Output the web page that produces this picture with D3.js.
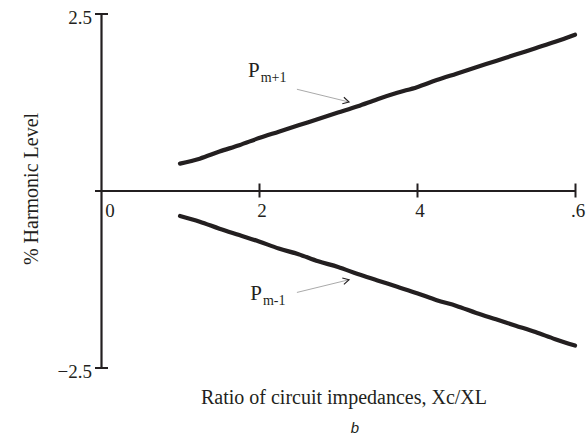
<!DOCTYPE html>
<html><head><meta charset="utf-8">
<script src="https://cdn.jsdelivr.net/npm/d3@7"></script>
<style>body{margin:0;background:#fff} svg{display:block}</style>
</head><body><svg id="c" width="588" height="438"></svg>
<script>
const xVals = [1,1.25,1.5,1.75,2,2.25,2.5,2.75,3,3.25,3.5,3.75,4,4.25,4.5,4.75,5,5.25,5.5,5.75,6];
const upperVals = [0.38,0.45,0.55,0.64,0.74,0.83,0.92,1.01,1.10,1.19,1.29,1.38,1.46,1.56,1.65,1.74,1.83,1.92,2.01,2.10,2.20];
const lowerVals = [-0.36,-0.44,-0.54,-0.63,-0.72,-0.82,-0.90,-1.00,-1.08,-1.18,-1.27,-1.36,-1.45,-1.55,-1.63,-1.73,-1.82,-1.91,-2.00,-2.10,-2.19];
const xTicks = [2,4,6];
const xTickLabelVals = [0,2,4,6];
const xTickLabels = ["0","2","4",".6"];
const yTicks = [2.5,0,-2.5];
const yTickLabelVals = [2.5,-2.5];
const yTickLabels = ["2.5","\u22122.5"];
const seriesLabels = [
  {name:"P", sub:"m+1", x:1.86, y:1.60, ax1:2.48, ay1:1.43, ax2:3.14, ay2:1.25},
  {name:"P", sub:"m-1", x:1.89, y:-1.54, ax1:2.48, ay1:-1.44, ax2:3.14, ay2:-1.26}
];
const xTitle = "Ratio of circuit impedances, Xc/XL";
const yTitle = "% Harmonic Level";
const caption = "b";

const ink = "#231f20";
const serif = "'Liberation Serif','Times New Roman',serif";
const svg = d3.select("#c");
const x = d3.scaleLinear().domain([0,6]).range([101,575]);
const y = d3.scaleLinear().domain([-2.5,2.5]).range([367.5,13.5]);

// X axis
const gx = svg.append("g").attr("transform",`translate(0,${y(0)})`)
  .call(d3.axisBottom(x).tickValues(xTicks).tickSize(7).tickSizeOuter(0).tickFormat(""));
gx.select(".domain").attr("stroke",ink).attr("stroke-width",2.2);
gx.selectAll(".tick line").attr("y1",-7).attr("y2",7).attr("stroke",ink).attr("stroke-width",2);

// Y axis
const gy = svg.append("g").attr("transform",`translate(${x(0)},0)`)
  .call(d3.axisLeft(y).tickValues(yTicks).tickSize(6).tickSizeOuter(0).tickFormat(""));
gy.select(".domain").attr("stroke",ink).attr("stroke-width",2.2);
gy.selectAll(".tick line").attr("x1",7).attr("x2",-6).attr("stroke",ink).attr("stroke-width",2);

// tick labels
svg.append("g").selectAll("text").data(xTickLabelVals).join("text")
  .attr("x",(d,i)=> i===0 ? x(d)+9 : x(d)+3)
  .attr("y",y(0)+26.5)
  .attr("text-anchor","middle")
  .attr("font-family",serif).attr("font-size",19).attr("fill",ink)
  .text((d,i)=>xTickLabels[i]);
svg.append("g").selectAll("text").data(yTickLabelVals).join("text")
  .attr("x",x(0)-9).attr("y",d=>y(d)+10)
  .attr("text-anchor","end")
  .attr("font-family",serif).attr("font-size",19).attr("fill",ink)
  .text((d,i)=>yTickLabels[i]);

// lines
const line = d3.line().x(d=>x(d[0])).y(d=>y(d[1])).curve(d3.curveCatmullRom);
[upperVals, lowerVals].forEach(vals=>{
  svg.append("path").datum(xVals.map((v,i)=>[v,vals[i]]))
    .attr("d",line).attr("fill","none").attr("stroke",ink)
    .attr("stroke-width",4.2).attr("stroke-linecap","round").attr("stroke-linejoin","round");
});

// series labels + arrows
seriesLabels.forEach(s=>{
  const t = svg.append("text").attr("x",x(s.x)).attr("y",y(s.y))
    .attr("font-family",serif).attr("fill",ink).attr("font-size",21);
  t.append("tspan").text(s.name);
  t.append("tspan").attr("font-size",14).attr("dx",1).attr("dy",5).text(s.sub);
  const x1=x(s.ax1), y1=y(s.ay1), x2=x(s.ax2), y2=y(s.ay2);
  svg.append("line").attr("x1",x1).attr("y1",y1).attr("x2",x2).attr("y2",y2)
    .attr("stroke","#aaa").attr("stroke-width",1);
  const ang = Math.atan2(y2-y1,x2-x1);
  const L=7, spread=0.5;
  const p = [[x2-L*Math.cos(ang-spread), y2-L*Math.sin(ang-spread)],[x2,y2],[x2-L*Math.cos(ang+spread), y2-L*Math.sin(ang+spread)]];
  svg.append("path").attr("d",d3.line()(p)).attr("fill","none").attr("stroke",ink).attr("stroke-width",1.1);
});

// titles
svg.append("text").attr("x",344).attr("y",404).attr("text-anchor","middle")
  .attr("font-family",serif).attr("font-size",20).attr("fill",ink).text(xTitle);
svg.append("text").attr("transform","translate(38,189) rotate(-90)").attr("text-anchor","middle")
  .attr("font-family",serif).attr("font-size",20).attr("fill",ink).text(yTitle);
svg.append("text").attr("x",355).attr("y",433).attr("text-anchor","middle")
  .attr("font-family","'Liberation Sans',Arial,sans-serif").attr("font-style","italic")
  .attr("font-size",15).attr("fill",ink).text(caption);
</script></body></html>
